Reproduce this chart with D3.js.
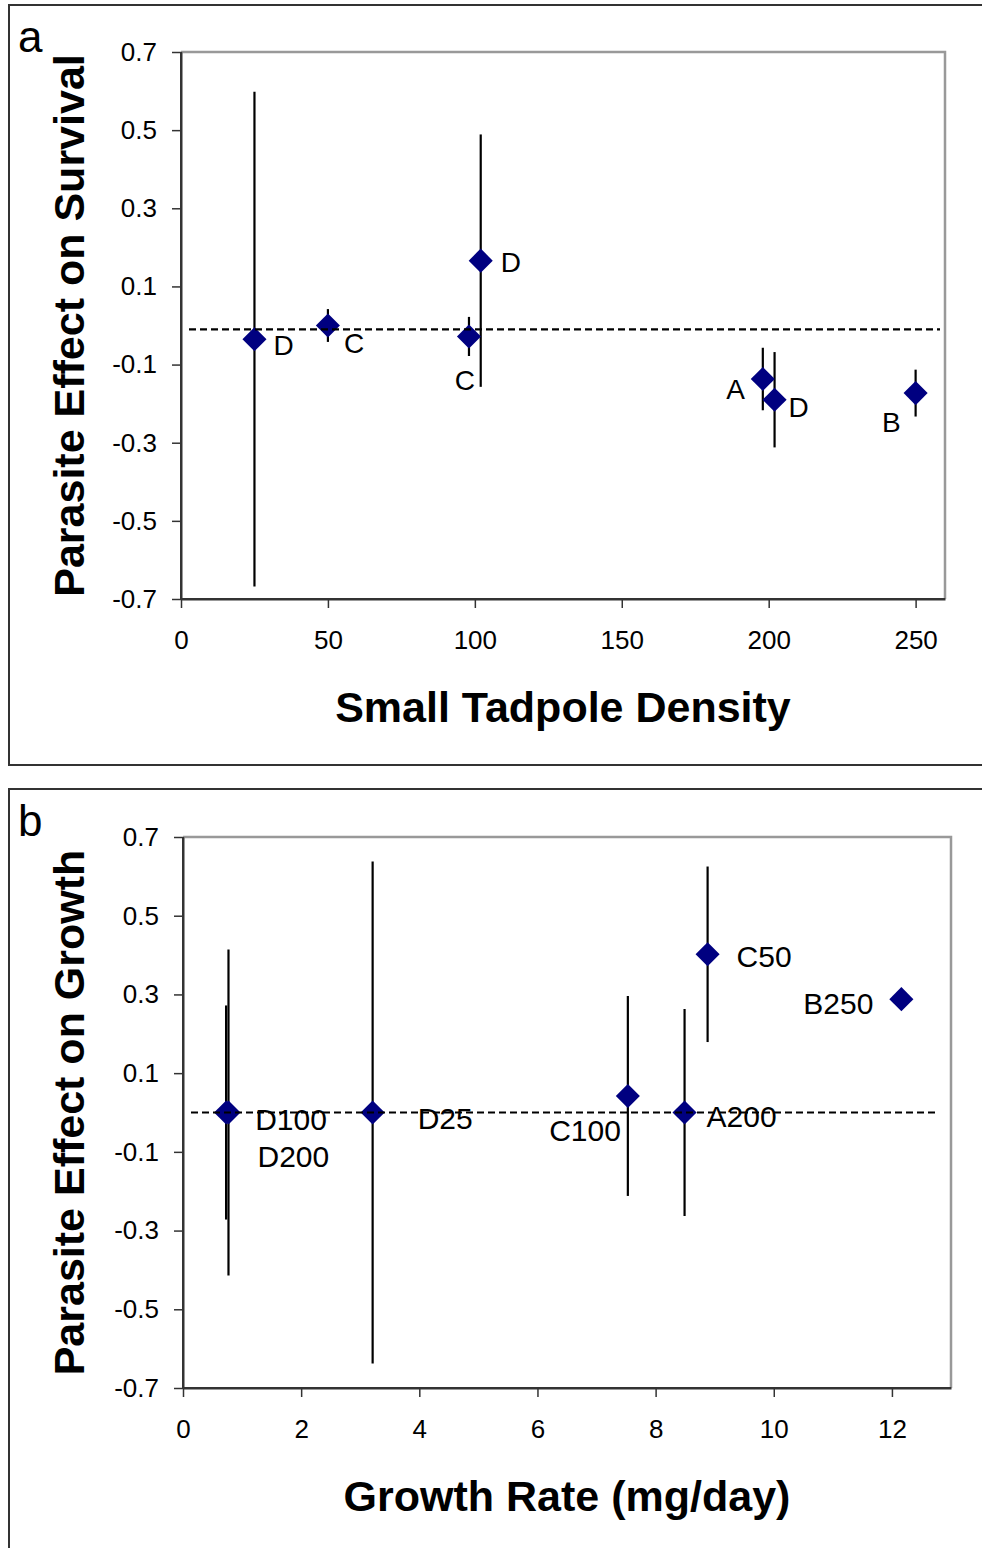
<!DOCTYPE html>
<html>
<head>
<meta charset="utf-8">
<script src="https://cdn.jsdelivr.net/npm/d3@7"></script>
<style>
  body { margin: 0; background: #fff; }
  svg { display: block; font-family: "Liberation Sans", Arial, sans-serif; }
</style>
</head>
<body>
<div id="chart"></div>
<script>
// panel a: parasite effect on survival vs small tadpole density
var densityA = [25, 50, 98, 102, 198, 202, 250];
var survivalEffect = [-0.035, 0.0, -0.028, 0.166, -0.137, -0.19, -0.173];
var survivalErr = [0.633, 0.042, 0.05, 0.323, 0.08, 0.122, 0.06];
var labelsA = ['D', 'C', 'C', 'D', 'A', 'D', 'B'];
var xTicksA = [0, 50, 100, 150, 200, 250];

// panel b: parasite effect on growth vs growth rate
var growthRate = [0.73, 0.77, 3.21, 7.53, 8.49, 8.88, 12.16];
var growthEffect = [0, 0, 0, 0.042, 0, 0.402, 0.288];
var growthErr = [0.272, 0.414, 0.638, 0.254, 0.263, 0.223, 0];
var labelsB = ['D100', 'D200', 'D25', 'C100', 'A200', 'C50', 'B250'];
var xTicksB = [0, 2, 4, 6, 8, 10, 12];

var yTicks = [-0.7, -0.5, -0.3, -0.1, 0.1, 0.3, 0.5, 0.7];

// label placement relative to each marker: [dx, dy, anchor]
var labelPosA = [[19, 16, 'start'], [16, 27, 'start'], [6, 54, 'end'], [20, 11, 'start'],
                 [-18, 20, 'end'], [14, 17, 'start'], [-15, 39, 'end']];
var labelPosB = [[29, 17, 'start'], [29, 54, 'start'], [45, 16, 'start'], [-7, 45, 'end'],
                 [22, 14, 'start'], [29, 13, 'start'], [-28, 15, 'end']];

var svg = d3.select('#chart').append('svg')
    .attr('width', 982)
    .attr('height', 1548);

svg.append('rect').attr('width', 982).attr('height', 1548).attr('fill', '#fff');

function panel(cfg) {
    var g = svg.append('g');

    // outer frame (runs off the right / bottom edge like the source figure)
    g.append('rect')
        .attr('x', 9).attr('y', cfg.boxTop)
        .attr('width', 990).attr('height', cfg.boxHeight)
        .attr('fill', 'none').attr('stroke', '#333').attr('stroke-width', 2);

    g.append('text')
        .attr('x', 18).attr('y', cfg.boxTop + 47)
        .attr('font-size', 44)
        .text(cfg.letter);

    var x = d3.scaleLinear().domain(cfg.xDomain).range([cfg.left, cfg.right]);
    var y = d3.scaleLinear().domain([-0.7, 0.7]).range([cfg.bottom, cfg.top]);

    // gray top/right border of the plot area
    g.append('path')
        .attr('d', `M${cfg.left},${cfg.top}H${cfg.right}V${cfg.bottom}`)
        .attr('fill', 'none').attr('stroke', '#999').attr('stroke-width', 2.5);

    var yAxis = g.append('g')
        .attr('transform', `translate(${cfg.left},0)`)
        .call(d3.axisLeft(y).tickValues(yTicks).tickFormat(d => d.toFixed(1))
            .tickSize(9).tickSizeOuter(0).tickPadding(15));
    var xAxis = g.append('g')
        .attr('transform', `translate(0,${cfg.bottom})`)
        .call(d3.axisBottom(x).tickValues(cfg.xTicks).tickFormat(d => d)
            .tickSize(9).tickSizeOuter(0).tickPadding(23));
    [xAxis, yAxis].forEach(a => {
        a.select('.domain').attr('stroke', '#333').attr('stroke-width', 2);
        a.selectAll('.tick line').attr('stroke', '#333').attr('stroke-width', 1.5);
        a.selectAll('.tick text').attr('fill', '#000').attr('font-size', 26)
            .attr('font-family', '"Liberation Sans", Arial, sans-serif');
    });
    // extend axis lines so they meet at the corner
    g.append('path')
        .attr('d', `M${cfg.left},${cfg.top}V${cfg.bottom}H${cfg.right}`)
        .attr('fill', 'none').attr('stroke', '#333').attr('stroke-width', 2);

    // axis titles
    g.append('text')
        .attr('x', (cfg.left + cfg.right) / 2).attr('y', cfg.bottom + 123)
        .attr('text-anchor', 'middle')
        .attr('font-size', 43).attr('font-weight', 'bold')
        .text(cfg.xTitle);
    g.append('text')
        .attr('transform', `translate(84,${(cfg.top + cfg.bottom) / 2}) rotate(-90)`)
        .attr('text-anchor', 'middle')
        .attr('font-size', 43).attr('font-weight', 'bold')
        .text(cfg.yTitle);

    var pts = cfg.xs.map((d, i) => ({ x: d, y: cfg.ys[i], e: cfg.errs[i], label: cfg.labels[i], pos: cfg.labelPos[i] }));

    // error bars
    g.selectAll('.err')
        .data(pts.filter(d => d.e > 0))
        .join('line')
        .attr('x1', d => x(d.x)).attr('x2', d => x(d.x))
        .attr('y1', d => y(d.y + d.e)).attr('y2', d => y(d.y - d.e))
        .attr('stroke', '#000').attr('stroke-width', 2.2);

    // diamond markers
    var diamond = d3.symbol(d3.symbolSquare, 290);
    g.selectAll('.pt')
        .data(pts)
        .join('path')
        .attr('d', diamond)
        .attr('transform', d => `translate(${x(d.x)},${y(d.y)}) rotate(45)`)
        .attr('fill', '#000080');

    // point labels
    g.selectAll('.lbl')
        .data(pts)
        .join('text')
        .attr('x', d => x(d.x) + d.pos[0])
        .attr('y', d => y(d.y) + d.pos[1])
        .attr('text-anchor', d => d.pos[2])
        .attr('font-size', cfg.labelSize)
        .text(d => d.label);

    // dashed reference line, drawn over everything like the original
    g.append('line')
        .attr('x1', cfg.left + 8).attr('x2', cfg.right - cfg.refInset)
        .attr('y1', y(cfg.ref)).attr('y2', y(cfg.ref))
        .attr('stroke', '#000').attr('stroke-width', 2.2)
        .attr('stroke-dasharray', '7,4');
}

panel({
    letter: 'a', boxTop: 5, boxHeight: 760,
    left: 181, right: 945, top: 52, bottom: 599,
    xDomain: [0, 260], xTicks: xTicksA,
    xs: densityA, ys: survivalEffect, errs: survivalErr,
    labels: labelsA, labelPos: labelPosA, labelSize: 28,
    ref: -0.01, refInset: 5,
    xTitle: 'Small Tadpole Density', yTitle: 'Parasite Effect on Survival'
});

panel({
    letter: 'b', boxTop: 789, boxHeight: 780,
    left: 183, right: 951, top: 837, bottom: 1388,
    xDomain: [0, 13], xTicks: xTicksB,
    xs: growthRate, ys: growthEffect, errs: growthErr,
    labels: labelsB, labelPos: labelPosB, labelSize: 30,
    ref: 0, refInset: 13,
    xTitle: 'Growth Rate (mg/day)', yTitle: 'Parasite Effect on Growth'
});
</script>
</body>
</html>
